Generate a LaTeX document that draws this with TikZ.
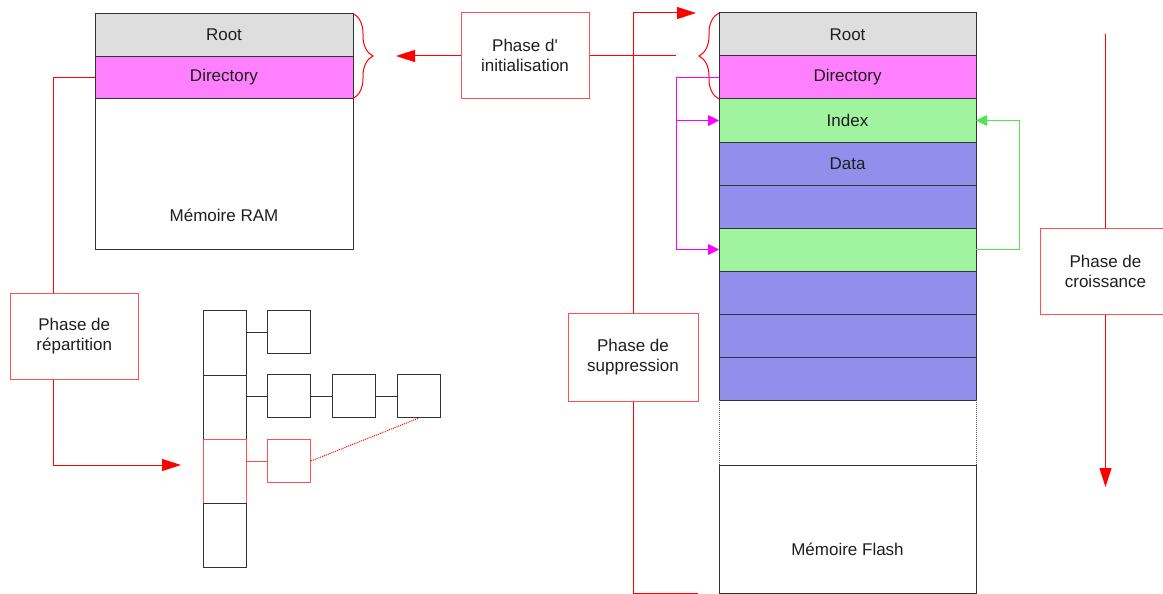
\documentclass[tikz,border=0pt]{standalone}
\usepackage{fontspec}
\setmainfont{Liberation Sans}[Ligatures=TeXOff]
\usetikzlibrary{
    arrows.meta,
    positioning,
    decorations.pathreplacing
}
\definecolor{rootgray}{RGB}{222,222,222}
\definecolor{dirpink}{RGB}{255,128,255}
\definecolor{idxgreen}{RGB}{160,244,160}
\definecolor{datablue}{RGB}{144,144,236}
\definecolor{boxred}{RGB}{255,80,80}
\definecolor{linered}{RGB}{255,0,0}
\definecolor{dirmag}{RGB}{255,0,255}
\definecolor{linkgreen}{RGB}{80,230,80}
\definecolor{txtgray}{RGB}{30,30,30}

\begin{document}
\begin{tikzpicture}[x=1pt,y=-1pt,line width=1pt,
    font=\fontsize{17}{20}\selectfont,
    cell/.style={draw=black!80,minimum width=257pt,minimum height=43pt,
        inner sep=0pt,outer sep=0pt,text=txtgray},
    phase/.style={draw=boxred,align=center,minimum width=128pt,
        minimum height=86pt,inner sep=0pt,text=txtgray},
    bucket/.style={draw=black!80,minimum width=43.5pt,minimum height=64.25pt,
        inner sep=0pt,outer sep=0pt},
    elem/.style={draw=black!80,minimum width=43pt,minimum height=43pt,inner sep=0pt},
    bigarrow/.style={linered,-{Triangle[length=19pt,width=12pt]}},
    smallarrow/.style={-{Triangle[length=11pt,width=11pt]}},
    bracered/.style={linered,decorate,decoration={brace,amplitude=20pt}}
]
\useasboundingbox (0,0) rectangle (1163,594);

% RAM
\node[cell,fill=rootgray,minimum width=258pt] (ramroot) at (224,35) {Root};
\node[cell,fill=dirpink,minimum width=258pt,minimum height=42pt,
      below=0pt of ramroot] (ramdir) {Directory};
\node[cell,minimum width=258pt,minimum height=151pt,
      below=0pt of ramdir] (ramfree) {};
\node[text=txtgray] (ramlabel) at (224,215) {Mémoire RAM};

% Flash
\node[cell,fill=rootgray] (f1) at (847.5,34.5) {Root};
\node[cell,fill=dirpink,below=0pt of f1] (f2) {Directory};
\node[cell,fill=idxgreen,below=0pt of f2] (f3) {Index};
\node[cell,fill=datablue,below=0pt of f3] (f4) {Data};
\node[cell,fill=datablue,below=0pt of f4] (f5) {};
\node[cell,fill=idxgreen,below=0pt of f5] (f6) {};
\foreach \i/\j in {7/6,8/7,9/8}{
    \node[cell,fill=datablue,below=0pt of f\j] (f\i) {};
}
\node[cell,draw=none,minimum height=65pt,below=0pt of f9] (ffree) {};
\draw[densely dotted,black!70]
(ffree.north west) -- (ffree.south west)
(ffree.north east) -- (ffree.south east);
\node[cell,minimum height=128pt,below=0pt of ffree] (fflash) {};
\node[text=txtgray] (flashlabel) at (847.5,549) {Mémoire Flash};

% Hash table
\node[bucket] (h1) at (224.75,343) {};
\node[bucket,below=0pt of h1] (h2) {};
\node[bucket,draw=boxred,below=0pt of h2] (h3) {};
\node[bucket,below=0pt of h3] (h4) {};

\node[elem] (c11) at (289,332) {};
\node[elem] (c21) at (289,396) {};
\node[elem,right=21pt of c21] (c22) {};
\node[elem,right=21pt of c22] (c23) {};
\node[elem,draw=boxred] (c31) at (289,461) {};

\draw[black!80] (h1.east |- c11.west) -- (c11.west);
\draw[black!80] (h2.east |- c21.west) -- (c21.west)
(c21) -- (c22) (c22) -- (c23);
\draw[boxred] (h3.east |- c31.west) -- (c31.west);
\draw[linered,densely dotted] (c31.east) -- (c23.south);

% Phases
\node[phase,minimum width=128.5pt] (rep) at (74.25,336) {Phase de\\répartition};
\node[phase] (init) at (525,55.5) {Phase d'\\initialisation};
\node[phase,minimum width=130pt,minimum height=88pt] (sup) at (633,357)
    {Phase de\\suppression};
\node[phase,minimum width=130pt] (cro) at (1105.5,271) {Phase de\\croissance};

% Initialisation
\draw[bracered] (ramroot.north east) -- (ramdir.south east);
\draw[bracered] (f2.south west) -- (f1.north west);
\coordinate (initsrc) at (676,56);
\coordinate (ramtip) at (396,56);
\draw[linered] (initsrc) -- (initsrc -| init.east);
\draw[bigarrow] (init.west |- ramtip) -- (ramtip);

% Repartition
\coordinate (reptip) at (181,465);
\draw[linered] (ramdir.west) -| ([xshift=-21pt]rep.north);
\draw[bigarrow] ([xshift=-21pt]rep.south) |- (reptip);

% Suppression
\coordinate (supbot) at (698,593);
\coordinate (suptop) at (696,13);
\draw[linered] (supbot) -| (sup.south);
\draw[bigarrow] (sup.north) |- (suptop);

% Directory -> index
\coordinate (dirbus) at (676,77.5);
\draw[dirmag] (f2.west) -- (dirbus) -- (dirbus |- f6.west);
\draw[dirmag,smallarrow] (dirbus |- f3.west) -- (f3.west);
\draw[dirmag,smallarrow] (dirbus |- f6.west) -- (f6.west);

% New index
\coordinate (idxbus) at (1019,249.5);
\draw[linkgreen,smallarrow] (f6.east) -- (idxbus) |- (f3.east);

% Croissance
\coordinate (crotop) at (1105.5,34);
\coordinate (crotip) at (1105.5,487);
\draw[linered] (crotop) -- (cro.north);
\draw[bigarrow] (cro.south) -- (crotip);

\end{tikzpicture}
\end{document}
